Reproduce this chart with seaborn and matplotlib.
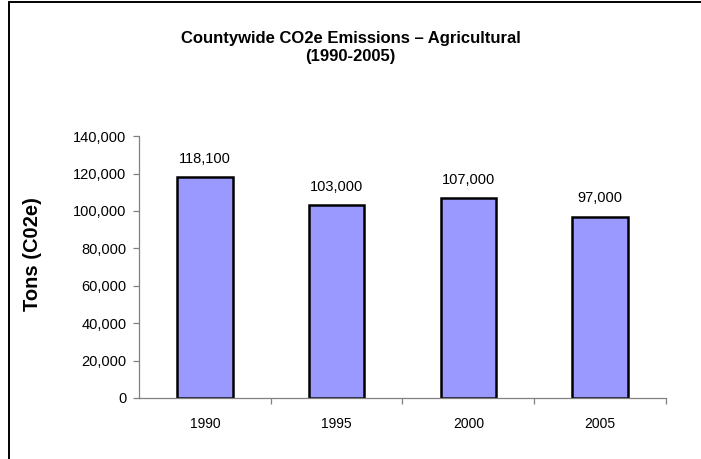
import matplotlib
matplotlib.use("Agg")
import matplotlib.pyplot as plt
from matplotlib.lines import Line2D
import seaborn as sns
import pandas as pd

years = ["1990", "1995", "2000", "2005"]
emissions = [118100, 103000, 107000, 97000]
value_labels = ["118,100", "103,000", "107,000", "97,000"]
y_ticks = [0, 20000, 40000, 60000, 80000, 100000, 120000, 140000]

sns.set_theme(style="white")
plt.rcParams["font.family"] = ["Liberation Sans", "DejaVu Sans"]
plt.rcParams["text.color"] = "black"
plt.rcParams["axes.labelcolor"] = "black"
plt.rcParams["xtick.labelcolor"] = "black"
plt.rcParams["ytick.labelcolor"] = "black"

df = pd.DataFrame({"year": years, "tons": emissions})

fig = plt.figure(figsize=(7.01, 4.59), dpi=100)
ax = fig.add_axes([0.1983, 0.133, 0.7517, 0.5705])

sns.barplot(data=df, x="year", y="tons", color="#9999FF", saturation=1,
            width=0.42, edgecolor="black", linewidth=1.8, ax=ax)

ax.set_ylim(0, 140000)
ax.set_xlim(-0.5, len(years) - 0.5)
ax.set_yticks(y_ticks)
ax.set_yticklabels([f"{v:,}" for v in y_ticks])

# category ticks sit at the boundaries between bars
ax.set_xticks([i + 0.5 for i in range(len(years))])
ax.set_xticklabels([])
ax.tick_params(axis="x", which="major", length=4, width=0.9, color="#808080",
               direction="out", bottom=True)
ax.set_xticks(range(len(years)), minor=True)
ax.set_xticklabels(years, minor=True)
ax.tick_params(axis="x", which="minor", length=0, pad=14, labelsize=10,
               labelcolor="black")
ax.tick_params(axis="y", length=4, width=0.9, color="#808080", direction="out",
               left=True, pad=5, labelsize=10.5, labelcolor="black")

for s in ["top", "right"]:
    ax.spines[s].set_visible(False)
for s in ["left", "bottom"]:
    ax.spines[s].set_color("#808080")
    ax.spines[s].set_linewidth(0.9)

for i, (v, lab) in enumerate(zip(emissions, value_labels)):
    ax.annotate(lab, (i, v), xytext=(0, 8), textcoords="offset points",
                ha="center", va="bottom", fontsize=10.5, color="black")

ax.set_xlabel("")
ax.set_ylabel("Tons (C02e)", fontsize=14.5, fontweight="bold",
              va="center", ha="center", color="black")
ax.yaxis.set_label_coords(-0.203, 0.55)

fig.text(0.5, 0.896, "Countywide CO2e Emissions \u2013 Agricultural\n(1990-2005)",
         ha="center", va="center", fontsize=12, fontweight="bold",
         linespacing=1.25, color="black")

# chart area frame (left and top edges)
fig.add_artist(Line2D([8.5 / 701, 8.5 / 701], [0, 1 - 2 / 459], color="black",
                      linewidth=1.4, transform=fig.transFigure))
fig.add_artist(Line2D([8.5 / 701, 1], [1 - 2 / 459, 1 - 2 / 459], color="black",
                      linewidth=1.4, transform=fig.transFigure))

fig.savefig("out.png", dpi=100, facecolor="white")
